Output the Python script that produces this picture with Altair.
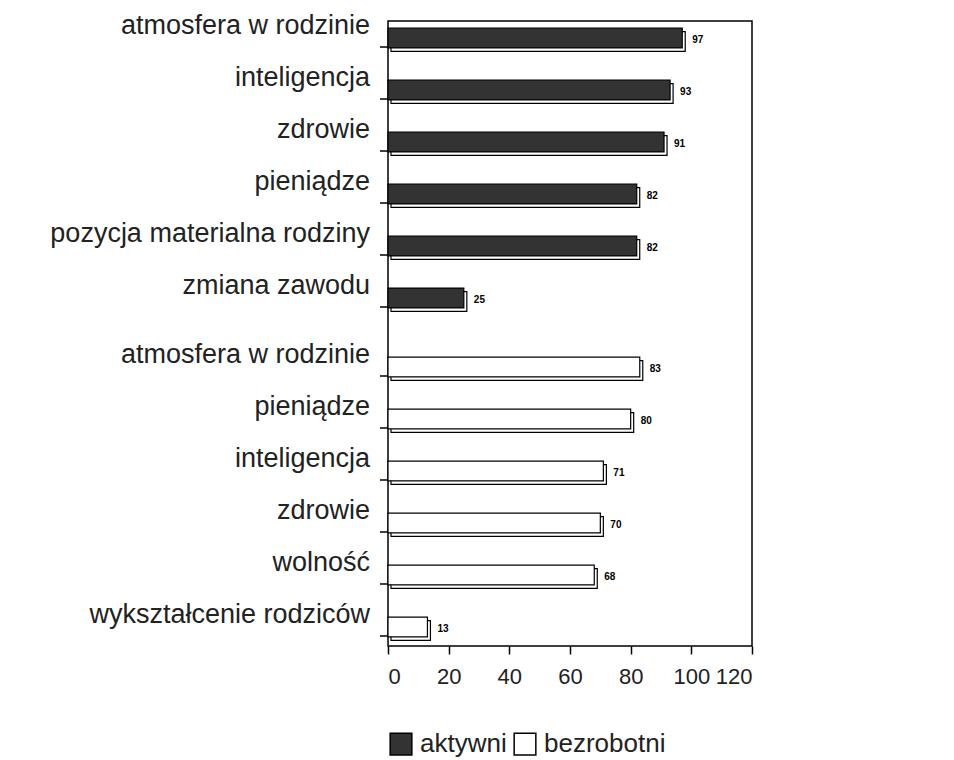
import altair as alt
import pandas as pd

categories = ["atmosfera w rodzinie", "inteligencja", "zdrowie", "pieniądze",
              "pozycja materialna rodziny", "zmiana zawodu",
              "atmosfera w rodzinie", "pieniądze", "inteligencja", "zdrowie",
              "wolność", "wykształcenie rodziców"]
values = [97, 93, 91, 82, 82, 25, 83, 80, 71, 70, 68, 13]
groups = ["aktywni"] * 6 + ["bezrobotni"] * 6
series = ["aktywni", "bezrobotni"]
x_ticks = [0, 20, 40, 60, 80, 100, 120]

df = pd.DataFrame({"idx": list(range(len(categories))), "label": categories,
                   "value": values, "group": groups})

FONT = "Liberation Sans"
TXT = "#222222"

yscale = alt.Scale(paddingInner=0.62, paddingOuter=0.32, align=0.47)
xscale = alt.Scale(domain=[0, 120], nice=False)
fill_scale = alt.Scale(domain=series, range=["#333333", "#ffffff"])

base = alt.Chart(df)
layers = []
offsets = {"aktywni": -8.5, "bezrobotni": 8.5}
for gi, g in enumerate(series):
    off = offsets[g]
    b = base.transform_filter(alt.datum.group == g)
    y = alt.Y("idx:O", axis=None, scale=yscale)
    shadow = b.mark_bar(fill="white", stroke="black", strokeWidth=1.2,
                        yOffset=off + 3.5, xOffset=3).encode(
        x=alt.X("value:Q", scale=xscale), y=y)
    if gi == 0:
        fill = alt.Fill("group:N", scale=fill_scale,
                        legend=alt.Legend(title=None, orient="none", legendX=0, legendY=710,
                                          direction="horizontal", symbolType="square",
                                          symbolSize=470, symbolStrokeColor="black",
                                          symbolStrokeWidth=1.5, labelFontSize=26,
                                          labelFont=FONT, labelColor=TXT, labelLimit=0,
                                          columnPadding=4, labelOffset=6))
    else:
        fill = alt.Fill("group:N", scale=fill_scale, legend=None)
    front = b.mark_bar(stroke="black", strokeWidth=1.2, yOffset=off).encode(
        x=alt.X("value:Q", scale=xscale,
                axis=alt.Axis(values=x_ticks, title=None, domain=False, grid=False,
                              tickColor="black", tickWidth=1.5, tickSize=8,
                              labelFontSize=22, labelFont=FONT, labelColor=TXT,
                              labelPadding=12, labelOverlap=False)),
        y=y, fill=fill)
    vals = b.mark_text(align="left", baseline="middle", dx=10, dy=2, yOffset=off,
                       fontSize=10, fontWeight="bold", font=FONT, color="black").encode(
        x=alt.X("value:Q", scale=xscale), y=y, text="value:Q")
    labs = b.mark_text(align="right", baseline="alphabetic", dy=-4, yOffset=off,
                       fontSize=27, font=FONT, color=TXT).encode(
        x=alt.value(-18), y=y, text="label:N")
    ticks = b.mark_rule(color="black", strokeWidth=1.5, yOffset=off + 9).encode(
        x=alt.value(-8), x2=alt.value(0), y=y)
    layers += [shadow, front, vals, labs, ticks]

chart = alt.layer(*layers).properties(
    width=364, height=625,
    autosize=alt.AutoSizeParams(type="none"),
    padding={"left": 380, "top": 13, "right": 190, "bottom": 130},
    background="white",
).configure_view(stroke="black", strokeWidth=1.5)

chart.save("out.html", embed_options={"renderer": "svg", "actions": False})
